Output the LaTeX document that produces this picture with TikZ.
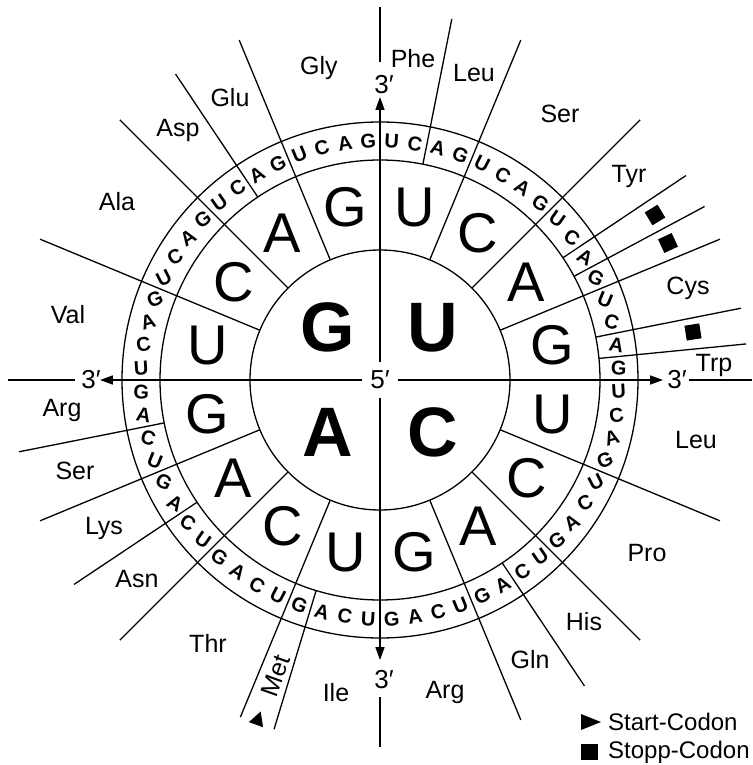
\documentclass[tikz,border=0pt]{standalone}
\usepackage{fontspec}
\setmainfont{Liberation Sans}
\usetikzlibrary{arrows.meta,calc}
\begin{document}
\begin{tikzpicture}[x=1pt,y=1pt,
  ln/.style={line width=1.3pt},
  aa/.style={font=\fontsize{25}{25}\selectfont, inner sep=0pt},
  cod/.style={font=\bfseries\fontsize{20}{20}\selectfont, inner sep=0pt},
  mid/.style={font=\fontsize{56}{56}\selectfont, inner sep=0pt},
  inn/.style={font=\bfseries\fontsize{70}{70}\selectfont, inner sep=0pt},
  prime/.style={font=\fontsize{26}{26}\selectfont, inner sep=0pt},
  leg/.style={font=\fontsize{24}{24}\selectfont, inner sep=0pt, anchor=west},
  axis/.style={line width=1.6pt},
  tip/.style={-{Triangle[length=13pt,width=9pt]}},
  stopbox/.style={fill=black, minimum size=15pt, inner sep=0pt}
]
\useasboundingbox (-380,-385) rectangle (372,380);
% rings
\draw[ln] (0,0) circle (130);
\draw[ln] (0,0) circle (220);
\draw[ln] (0,0) circle (258);
% radial dividers starting at the inner circle
\foreach \a in {22.5,45,67.5,112.5,135,157.5,202.5,225,292.5,315,337.5}
  \draw[ln] (\a:130) -- (\a:368);
\draw[ln] (247.5:130) -- (247.5:365);
% radial dividers starting at the middle circle
\foreach \a in {78.75,33.75,28.125,11.25,5.625,123.75,191.25,213.75,303.75}
  \draw[ln] (\a:220) -- (\a:368);
\draw[ln] (253.125:220) -- (253.125:365);
% inner letters
\node[inn] (iU) at (45:74) {U};
\node[inn] (iC) at (-45:74) {C};
\node[inn] (iA) at (-135:74) {A};
\node[inn] (iG) at (135:74) {G};
% middle letters
\foreach \q in {0,...,3}{
  \foreach \l [count=\s from 0] in {U,C,A,G}{
    \pgfmathsetmacro\ang{90-90*\q-22.5*\s-11.25}
    \node[mid] (m-\q-\s) at (\ang:176) {\l};
  }
}
% outer codon letters
\foreach \j in {0,...,15}{
  \foreach \l [count=\t from 0] in {U,C,A,G}{
    \pgfmathsetmacro\ang{90-22.5*\j-5.625*\t-2.8125}
    \pgfmathsetmacro\rot{-35*sin(2*\ang)}
    \node[cod,rotate=\rot] (o-\j-\t) at (\ang:239) {\l};
  }
}
% axes
\node[prime, fill=white, minimum size=36pt] (c) at (0,0) {5′};
\coordinate (tN) at (0,283);
\coordinate (tS) at (0,-280);
\coordinate (tW) at (-280,0);
\coordinate (tE) at (283,0);
\node[prime] (lN) at (4,295.5) {3′};
\node[prime] (lS) at (4,-300) {3′};
\node[prime] (lW) at (-289,0) {3′};
\node[prime] (lE) at (297,0) {3′};
\coordinate (n1) at (0,318); \coordinate (n2) at (0,373);
\coordinate (s1) at (0,-317); \coordinate (s2) at (0,-367);
\coordinate (w1) at (-305,0); \coordinate (w2) at (-372,0);
\coordinate (e1) at (309,0); \coordinate (e2) at (372,0);
\draw[axis,tip] (c) -- (tN);
\draw[axis,tip] (c) -- (tS);
\draw[axis,tip] (c) -- (tW);
\draw[axis,tip] (c) -- (tE);
\draw[axis] (n1) -- (n2);
\draw[axis] (s1) -- (s2);
\draw[axis] (w1) -- (w2);
\draw[axis] (e1) -- (e2);
% amino acid labels
\node[aa] (Phe) at (33,321) {Phe};
\node[aa] (Leu1) at (94,307) {Leu};
\node[aa] (Ser1) at (180,266) {Ser};
\node[aa] (Tyr) at (249,204) {Tyr};
\node[aa] (Cys) at (308,92) {Cys};
\node[aa] (Trp) at (334,15) {Trp};
\node[aa] (Leu2) at (316,-60) {Leu};
\node[aa] (Pro) at (267,-173) {Pro};
\node[aa] (His) at (204,-242) {His};
\node[aa] (Gln) at (150,-280) {Gln};
\node[aa] (Arg1) at (65,-312) {Arg};
\node[aa] (Ile) at (-44,-313) {Ile};
\node[aa] (Thr) at (-172,-263) {Thr};
\node[aa] (Asn) at (-243,-199) {Asn};
\node[aa] (Lys) at (-276,-148) {Lys};
\node[aa] (Ser2) at (-305,-91) {Ser};
\node[aa] (Arg2) at (-318,-30) {Arg};
\node[aa] (Val) at (-312,65) {Val};
\node[aa] (Ala) at (-263,178) {Ala};
\node[aa] (Asp) at (-202,250) {Asp};
\node[aa] (Glu) at (-150,282) {Glu};
\node[aa] (Gly) at (-61,312) {Gly};
% stop codons
\node[stopbox, rotate=31] (st1) at (275,165) {};
\node[stopbox, rotate=25] (st2) at (288,137) {};
\node[stopbox, rotate=9] (st3) at (313,48) {};
% Met
\node[aa, font=\fontsize{25}{25}\selectfont, rotate=70.3] (Met) at (-104,-296) {Met};
\fill[shift={(-122,-339)}, rotate=70.3] (8,0) -- (-6,7.5) -- (-6,-7.5) -- cycle;
% legend
\fill (201,-334) -- (221,-342) -- (201,-350) -- cycle;
\node[leg] (lgstart) at (228,-342) {Start-Codon};
\fill (201,-364) rectangle (218,-380);
\node[leg] (lgstop) at (228,-372) {Stopp-Codon};
\end{tikzpicture}
\end{document}
